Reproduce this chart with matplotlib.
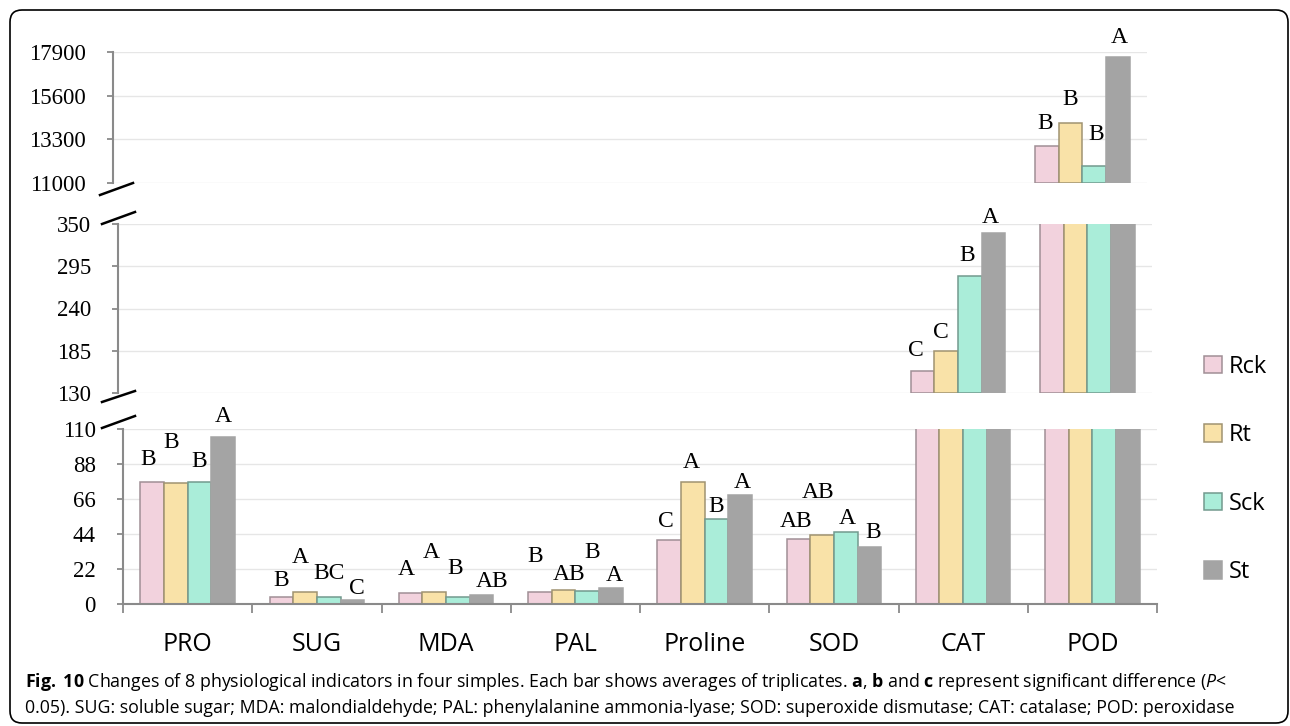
import matplotlib.pyplot as plt
import numpy as np
from matplotlib.patches import Patch, FancyBboxPatch
from matplotlib.lines import Line2D
from matplotlib.transforms import IdentityTransform

plt.rcParams['mathtext.fontset'] = 'custom'
plt.rcParams['mathtext.rm'] = 'Open Sans'
plt.rcParams['mathtext.bf'] = 'Open Sans:bold'
plt.rcParams['mathtext.it'] = 'Open Sans:italic'

# physiological indicators, averages of triplicates
indicators = ["PRO", "SUG", "MDA", "PAL", "Proline", "SOD", "CAT", "POD"]
samples = ["Rck", "Rt", "Sck", "St"]

rck = [76.9, 4.2, 6.7, 7.7, 40.2, 40.6, 158.6, 12950]
rt = [75.9, 7.7, 7.3, 8.8, 76.9, 43.4, 184.7, 14150]
sck = [76.9, 4.2, 4.4, 8.2, 53.2, 45.1, 282, 11910]
st = [105.2, 2.3, 5.7, 10.3, 68.7, 36.0, 338, 17620]

# significance letters
sig_rck = ["B", "B", "A", "B", "C", "AB", "C", "B"]
sig_rt = ["B", "A", "A", "AB", "A", "AB", "C", "B"]
sig_sck = ["B", "BC", "B", "B", "B", "A", "B", "B"]
sig_st = ["A", "C", "AB", "A", "A", "B", "A", "A"]

ticks_low = [0, 22, 44, 66, 88, 110]
ticks_mid = [130, 185, 240, 295, 350]
ticks_high = [11000, 13300, 15600, 17900]

# letter placement nudges (pixels)
nudge_dx = [[-4, 0, -4, -5, -3, -2, -7, -2],
            [-5, -5, -3, 6, -2, -4, -5, 0],
            [0, 0, -3, 5, 0, 2, -3, 2],
            [0, 5, 10, 3, 2, 4, -3, 1]]
nudge_dy = [[22, 17, 24, 35, 19, 18, 21, 22],
            [41, 34, 40, 16, 19, 42, 18, 24],
            [20, 24, 29, 38, 13, 14, 21, 31],
            [20, 12, 13, 12, 12, 14, 16, 20]]

values = [rck, rt, sck, st]
letters = [sig_rck, sig_rt, sig_sck, sig_st]
faces = ["#F2D2DD", "#F9E2A8", "#AAEDD9", "#A4A4A4"]
edges = ["#A08F96", "#A09371", "#739A8E", "#A4A4A4"]

W, H = 1290, 726
fig = plt.figure(figsize=(W / 100, H / 100), dpi=100)

def px_rect(left, top, right, bottom):
    return [left / W, 1 - bottom / H, (right - left) / W, (bottom - top) / H]

panels = [
    (px_rect(113, 52, 1147, 183), 11000, 17900, ticks_high),
    (px_rect(118, 224, 1152, 393), 130, 350, ticks_mid),
    (px_rect(123, 429, 1157, 604), 0, 110, ticks_low),
]

serif = "Liberation Serif"
spine_col = "#8A8A8A"
x = np.arange(len(indicators))
bw = 0.183
offsets = (np.arange(4) - 1.5) * bw

axes = []
for rect, lo, hi, ticks in panels:
    ax = fig.add_axes(rect)
    ax.set_xlim(-0.5, len(indicators) - 0.5)
    ax.set_ylim(lo, hi)
    ax.set_axisbelow(True)
    for s in ["top", "right", "bottom"]:
        ax.spines[s].set_visible(False)
    ax.spines["left"].set_color(spine_col)
    ax.spines["left"].set_linewidth(1.5)
    ax.set_yticks(ticks)
    ax.set_yticklabels([str(t) for t in ticks], fontfamily=serif, fontsize=16.5)
    ax.tick_params(axis="y", length=4.5, width=1.3, color=spine_col, pad=15)
    ax.grid(axis="y", color="#E6E6E6", linewidth=1.0)
    ax.set_xticks([])

    for i in range(4):
        vals = np.array(values[i], dtype=float)
        show = vals > lo
        ax.bar(x[show] + offsets[i], vals[show] - lo, bw, bottom=lo,
               color=faces[i], edgecolor=edges[i], linewidth=1.1, zorder=2)
        for j in np.where(show & (vals <= hi))[0]:
            ax.annotate(letters[i][j], (x[j] + offsets[i], vals[j]),
                        xytext=(nudge_dx[i][j], nudge_dy[i][j]),
                        textcoords="offset pixels", ha="center", va="center",
                        fontfamily=serif, fontsize=17, annotation_clip=False)
    axes.append(ax)

# category axis on the lowest panel
ax = axes[-1]
ax.spines["bottom"].set_visible(True)
ax.spines["bottom"].set_color(spine_col)
ax.spines["bottom"].set_linewidth(1.5)
ax.set_xticks(np.arange(len(indicators) + 1) - 0.5)
ax.set_xticklabels([])
ax.set_xticks(x, minor=True)
ax.set_xticklabels(indicators, minor=True, fontfamily="Open Sans", fontsize=18)
ax.tick_params(axis="x", which="major", length=6.5, width=1.3, color=spine_col, direction="out")
ax.tick_params(axis="x", which="minor", length=0, pad=20)

# axis break marks
for (x0, y0, x1, y1) in [(100, 195, 133, 183), (102, 224, 135, 212),
                         (102, 402, 135, 391), (102, 428, 135, 416)]:
    fig.add_artist(Line2D([x0 / W, x1 / W], [1 - y0 / H, 1 - y1 / H],
                          color="black", linewidth=1.8, transform=fig.transFigure))

handles = [Patch(facecolor=faces[i], edgecolor=edges[i], linewidth=1.1) for i in range(4)]
fig.legend(handles, samples, loc="center left", bbox_to_anchor=(1204 / W, 1 - 469.5 / H),
           frameon=False, prop={"family": "Open Sans", "size": 17},
           handlelength=0.76, handleheight=0.76, handletextpad=0.3,
           labelspacing=1.88, borderpad=0, borderaxespad=0)

cap1 = (r"$\mathbf{Fig.}$ $\mathbf{10}$ Changes of 8 physiological indicators in four simples. "
        r"Each bar shows averages of triplicates. $\mathbf{a}$, $\mathbf{b}$ and "
        r"$\mathbf{c}$ represent significant difference ($\mathit{P}$<")
cap2 = ("0.05). SUG: soluble sugar; MDA: malondialdehyde; PAL: phenylalanine ammonia-lyase; "
        "SOD: superoxide dismutase; CAT: catalase; POD: peroxidase")
fig.text(25 / W, 1 - 687 / H, cap1, fontfamily="Open Sans", fontsize=12.8, va="baseline")
fig.text(25 / W, 1 - 713 / H, cap2, fontfamily="Open Sans", fontsize=12.8, va="baseline")

# rounded frame around the figure
frame = FancyBboxPatch((10, 3), 1278, 713, boxstyle="round,pad=0,rounding_size=12",
                       transform=IdentityTransform(), facecolor="none",
                       edgecolor="black", linewidth=1.2)
fig.add_artist(frame)

fig.savefig("out.png", dpi=100, facecolor="white")
